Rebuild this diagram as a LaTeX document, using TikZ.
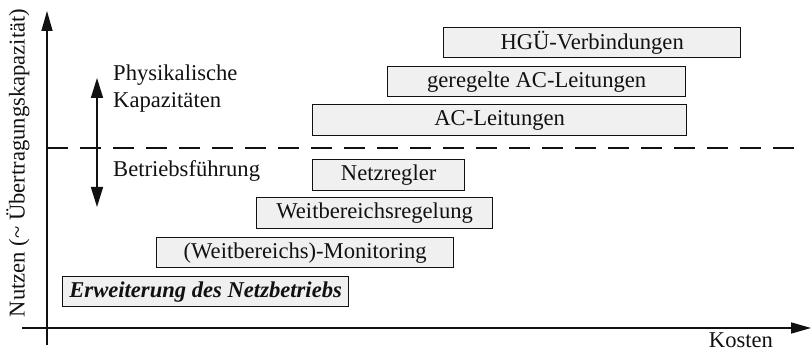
\documentclass[tikz,border=0pt]{standalone}
\usepackage{fontspec}
\setmainfont{Liberation Serif}
\usetikzlibrary{arrows.meta}
\definecolor{boxfill}{HTML}{F0F0F0}
\definecolor{ink}{HTML}{111111}
\begin{document}
\begin{tikzpicture}[x=1pt,y=-1pt,
  every node/.style={font=\fontsize{22.6}{27}\selectfont, text=ink},
  stage/.style={draw=ink, line width=1.3pt, fill=boxfill, inner sep=0pt, anchor=north west},
  axis/.style={draw=ink, line width=1.6pt, -{Triangle[length=20pt,width=11pt]}},
  span/.style={draw=ink, line width=1.6pt, {Triangle[length=20pt,width=12pt]}-{Triangle[length=20pt,width=12pt]}},
  border/.style={draw=ink, line width=1.3pt, dash pattern=on 21pt off 12pt},
  lbl/.style={anchor=base west, inner sep=0pt, align=left}]
\useasboundingbox (0,0) rectangle (811,352);

% axes
\coordinate (ybot) at (47,345);
\coordinate (ytop) at (47,11);
\coordinate (xleft) at (22,328);
\coordinate (xright) at (811,328);
\draw[axis] (ybot) -- (ytop);
\draw[axis] (xleft) -- (xright);
\node[rotate=90, inner sep=0pt] (ylabel) at (18,163) {Nutzen (\textasciitilde{} Übertragungskapazität)};
\node[inner sep=0pt] (xlabel) at (741,340) {Kosten};

% boundary between capacity and operation
\coordinate (dl) at (47,148);
\coordinate (dr) at (800,148);
\draw[border] (dl) -- (dr);

% double arrow with its two labels
\coordinate (atop) at (97,78);
\coordinate (abot) at (97,207);
\draw[span] (abot) -- (atop);
\node[lbl] (phys) at (113,108) {Physikalische\\Kapazitäten};
\node[lbl] (betr) at (113,177) {Betriebsführung};

% measures, ordered by cost and benefit
\node[stage, minimum width=297pt, minimum height=30pt] (hgue) at (443,27) {HGÜ-Verbindungen};
\node[stage, minimum width=298pt, minimum height=30pt] (gac) at (387,66) {geregelte AC-Leitungen};
\node[stage, minimum width=374pt, minimum height=31pt] (ac) at (312,104) {AC-Leitungen};
\node[stage, minimum width=152pt, minimum height=31pt] (nr) at (312,159) {Netzregler};
\node[stage, minimum width=236pt, minimum height=31pt] (wr) at (256,197) {Weitbereichsregelung};
\node[stage, minimum width=297pt, minimum height=30pt] (wm) at (156,237) {(Weitbereichs)-Monitoring};
\node[stage, minimum width=286pt, minimum height=30pt, font=\fontsize{22.6}{27}\selectfont\bfseries\itshape] (enb) at (62,276) {Erweiterung des Netzbetriebs};
\end{tikzpicture}
\end{document}
